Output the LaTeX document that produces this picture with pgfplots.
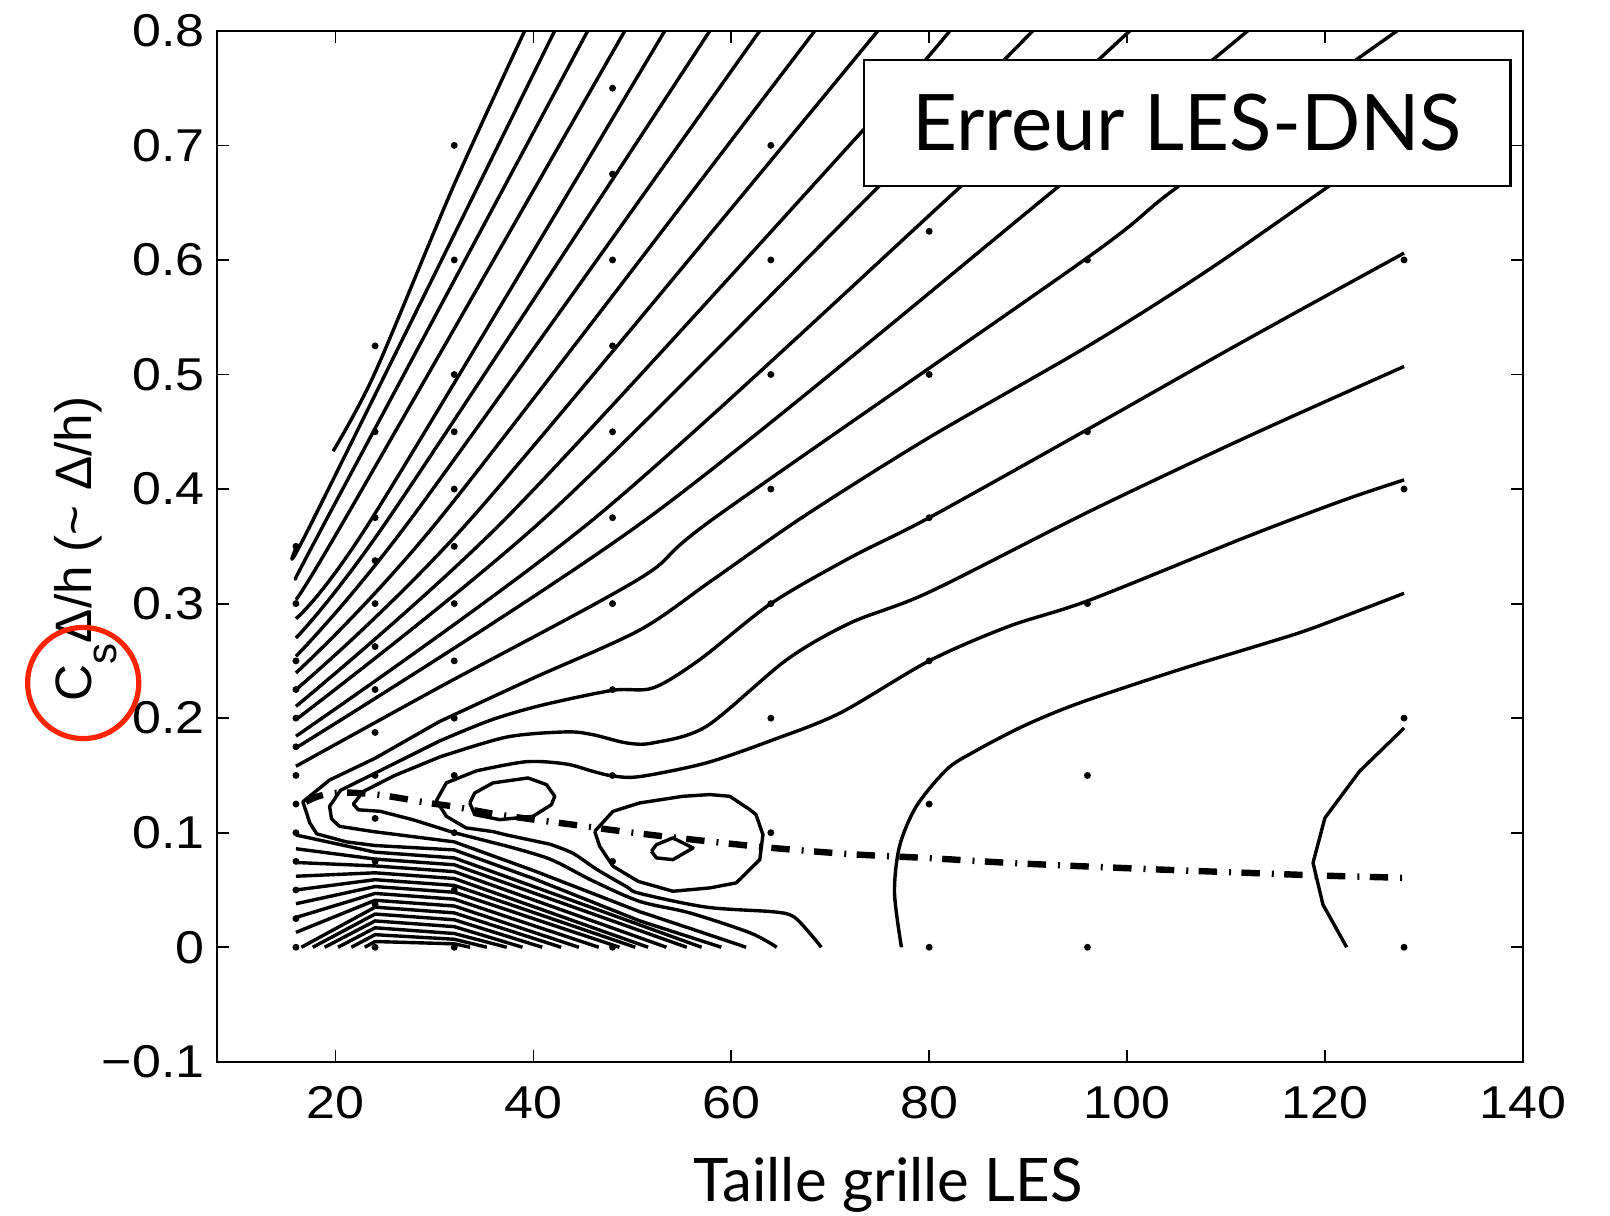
\documentclass[border=0pt]{standalone}
\usepackage{fontspec}
\setmainfont{Liberation Sans}
\newfontfamily\tickfont[FakeStretch=1.13]{Liberation Sans}
\newfontfamily\gill{Lato}
\usepackage{pgfplots}
\pgfplotsset{compat=1.18}
\definecolor{circred}{RGB}{255,36,0}
\tikzset{cl/.style={black, line width=0.85pt, mark=none, line join=round}}
\begin{document}
\begin{tikzpicture}
\begin{axis}[
  scale only axis, width=326.5pt, height=257.75pt,
  xmin=8, xmax=140, ymin=-0.1, ymax=0.8,
  xtick={20,40,60,80,100,120,140},
  xticklabels={20,40,60,80,100,120,140},
  ytick={-0.1,0,0.1,0.2,0.3,0.4,0.5,0.6,0.7,0.8},
  yticklabels={−0.1,0,0.1,0.2,0.3,0.4,0.5,0.6,0.7,0.8},
  tick align=inside, major tick length=3pt,
  axis line style={line width=0.5pt},
  every tick/.style={black, line width=0.45pt},
  xticklabel style={font=\tickfont\fontsize{11.5}{11.5}\selectfont, inner sep=0pt, yshift=-6pt},
  yticklabel style={font=\tickfont\fontsize{11.5}{11.5}\selectfont, inner sep=0pt, xshift=-2.9pt},
]
% ---- upper fan lines reaching the top border
\addplot[cl, smooth, tension=0.5] coordinates {(19.75,0.433) (23.96,0.501) (31.9,0.664) (39.12,0.8)};
\addplot[cl, smooth, tension=0.5] coordinates {(16,0.3485) (17.9,0.376) (42.15,0.8)};
\addplot[cl, smooth, tension=0.5] coordinates {(16,0.3223) (19.24,0.376) (45.49,0.8)};
\addplot[cl, smooth, tension=0.5] coordinates {(16,0.3034) (21.1,0.376) (49.24,0.8)};
\addplot[cl, smooth, tension=0.5] coordinates {(16,0.2869) (23.8,0.376) (53.28,0.8)};
\addplot[cl, smooth, tension=0.5] coordinates {(16,0.27) (25.5,0.376) (57.83,0.8)};
\addplot[cl, smooth, tension=0.5] coordinates {(16,0.254) (27.8,0.376) (62.88,0.8)};
\addplot[cl, smooth, tension=0.5] coordinates {(16,0.2395) (30.7,0.376) (68.44,0.8)};
\addplot[cl, smooth, tension=0.5] coordinates {(16,0.2249) (33.9,0.376) (74.81,0.8)};
\addplot[cl, smooth, tension=0.5] coordinates {(16,0.2103) (37.4,0.376) (73.4,0.714) (82.09,0.8)};
\addplot[cl, smooth, tension=0.5] coordinates {(16,0.1987) (41.3,0.376) (75.0,0.665) (90.48,0.8)};
\addplot[cl, smooth, tension=0.5] coordinates {(16,0.1842) (46.4,0.376) (83.3,0.665) (100.28,0.8)};
\addplot[cl, smooth, tension=0.5] coordinates {(16,0.174) (51.8,0.376) (93.2,0.665) (112.2,0.8)};
\addplot[cl, smooth, tension=0.5] coordinates {(16,0.158) (30.5,0.227) (50.76,0.322) (58.5,0.376) (96,0.602) (105.3,0.665) (127.3,0.8)};
% ---- hairpin contours around the valley (sharp near the noses, smooth further right)
\addplot[cl] coordinates {(59,0) (50.76,0.023) (40,0.06) (32,0.085) (24,0.0888) (21.1,0.092) (18.1,0.099) (17.4,0.1086) (16.7,0.127) (19.4,0.146) (24,0.165) (30.5,0.197)};
\addplot[cl, smooth, tension=0.5] coordinates {(30.5,0.197) (40,0.235) (50.76,0.277) (58,0.32) (67.3,0.376) (80,0.445) (96,0.5245) (108,0.59) (120.5,0.665) (128,0.71)};
\addplot[cl] coordinates {(61.5,0) (56,0.016) (50.76,0.031) (40,0.067) (32,0.092) (23.8,0.101) (20.4,0.1056) (19.6,0.112) (19.4,0.123) (20.5,0.137) (24,0.152) (30.5,0.18)};
\addplot[cl, smooth, tension=0.5] coordinates {(30.5,0.18) (35.6,0.198) (40.7,0.211) (48,0.2243) (52.1,0.2264) (56.8,0.251) (64,0.3) (72,0.34) (80,0.375) (96,0.452) (112,0.53) (128,0.606)};
\addplot[cl, smooth, tension=0.5] coordinates {(64.6,0) (61.9,0.0126) (55.8,0.03) (50.76,0.04) (46,0.058) (41.66,0.077) (37,0.089)};
\addplot[cl] coordinates {(37,0.089) (32,0.1) (27.8,0.1114) (24.5,0.1187) (22.3,0.12) (21.8,0.125) (22.8,0.136) (26,0.150) (30.5,0.166)};
\addplot[cl, smooth, tension=0.5] coordinates {(30.5,0.166) (37.3,0.1835) (43.3,0.188) (46,0.1856) (49.4,0.1784) (52.1,0.1784) (57.5,0.1929) (65.6,0.251) (72,0.283) (80,0.31) (96.2,0.3805) (112,0.445) (128,0.507)};
\addplot[cl, smooth, tension=0.5] coordinates {(69.1,0) (67.9,0.0126) (66.25,0.027) (64.2,0.031) (57.5,0.035) (50.76,0.047) (49.4,0.053) (46.4,0.068) (44,0.082) (41.66,0.09)};
\addplot[cl] coordinates {(41.66,0.09) (37.3,0.098) (35.9,0.101) (33.2,0.1042) (31.2,0.1143) (30.2,0.128) (31.2,0.1435) (34.24,0.154)};
\addplot[cl, smooth, tension=0.5] coordinates {(34.24,0.154) (39.3,0.162) (43.3,0.16) (46,0.1536) (48,0.1496) (50.76,0.149) (57.5,0.161) (64.2,0.181) (71,0.2045) (80,0.25) (88,0.28) (96.2,0.303) (112,0.358) (121.8,0.39) (128,0.408)};
% ---- lower chevron lines
\addplot[cl] coordinates {(16,0.098) (24,0.083) (32,0.078) (57,0)};
\addplot[cl] coordinates {(16,0.086) (24,0.077) (32,0.072) (55.5,0)};
\addplot[cl] coordinates {(16,0.074) (24,0.071) (32,0.066) (53.45,0)};
\addplot[cl] coordinates {(16,0.062) (24,0.065) (32,0.060) (51.6,0)};
\addplot[cl] coordinates {(16,0.050) (24,0.059) (32,0.054) (50.3,0)};
\addplot[cl] coordinates {(16,0.038) (24,0.053) (32,0.048) (48.7,0)};
\addplot[cl] coordinates {(16,0.026) (24,0.047) (32,0.042) (46.6,0)};
\addplot[cl] coordinates {(16,0.013) (24,0.041) (32,0.036) (44.6,0)};
\addplot[cl] coordinates {(16.55,0) (24,0.035) (32,0.030) (42.8,0)};
\addplot[cl] coordinates {(17.7,0) (24,0.029) (32,0.024) (40.9,0)};
\addplot[cl] coordinates {(18.9,0) (24,0.023) (32,0.018) (38.9,0)};
\addplot[cl] coordinates {(20.25,0) (24,0.017) (32,0.012) (37.3,0)};
\addplot[cl] coordinates {(21.6,0) (24,0.011) (32,0.007) (35.3,0)};
\addplot[cl] coordinates {(22.95,0) (24,0.005) (32,0.003) (33.6,0)};
% ---- closed contours
\addplot[cl] coordinates {(33.57,0.126) (34.07,0.1347) (35.92,0.1435) (39.46,0.1478) (41.32,0.142) (42.16,0.1318) (41.82,0.1245) (39.96,0.1143) (36.6,0.1114) (34.07,0.1158) (33.57,0.126)};
\addplot[cl] coordinates {(51.93,0.0838) (52.44,0.0896) (54.1,0.0955) (56.14,0.0867) (54.1,0.0765) (52.44,0.078) (51.93,0.0838)};
\addplot[cl] coordinates {(46.2,0.1012) (48.05,0.1187) (50.75,0.126) (55.13,0.1318) (57.83,0.1333) (59.85,0.1318) (61.87,0.1202) (62.5,0.1158) (63.2,0.0983) (62.88,0.0765) (60.5,0.0562) (57.83,0.0518) (54.1,0.0489) (50.6,0.0575) (48.05,0.0707) (46.7,0.0881) (46.2,0.1012)};
% ---- right-hand contours
\addplot[cl, smooth, tension=0.5] coordinates {(77.2,0) (76.5,0.0475) (77.0,0.088) (78.7,0.123) (81.75,0.155) (84.4,0.170) (89.5,0.193) (95.2,0.2133) (105.3,0.2424) (114.1,0.2656) (118.8,0.2787) (128,0.309)};
\addplot[cl] coordinates {(128,0.1914) (123.5,0.1536) (120.0,0.1129) (118.8,0.0737) (119.8,0.0373) (122.2,0)};
% ---- dash-dot line
\addplot[black, line width=1.6pt, smooth, dash pattern=on 4.6pt off 3.0pt on 0.5pt off 2.6pt] coordinates {(17,0.127) (18,0.131) (19,0.1335) (20,0.1347) (21,0.135) (22,0.1348) (24,0.1335) (26,0.131) (28,0.128) (30,0.1252) (32,0.1228) (36,0.1165) (40,0.1115) (44,0.107) (48,0.1023) (52,0.098) (56,0.0941) (60,0.0903) (64,0.0868) (72,0.0813) (80,0.0778) (88,0.0737) (96,0.0705) (104,0.0676) (112,0.065) (120,0.0625) (128,0.0606)};
% ---- grid points
\addplot[only marks, mark=*, mark size=0.65pt, black] coordinates {
(16,0) (16,0.025) (16,0.05) (16,0.075) (16,0.1) (16,0.125) (16,0.15) (16,0.175) (16,0.2) (16,0.225) (16,0.25) (16,0.3) (16,0.35)
(24,0) (24,0.0375) (24,0.075) (24,0.1125) (24,0.15) (24,0.1875) (24,0.225) (24,0.2625) (24,0.3) (24,0.3375) (24,0.375) (24,0.45) (24,0.525)
(32,0) (32,0.05) (32,0.1) (32,0.15) (32,0.2) (32,0.25) (32,0.3) (32,0.35) (32,0.4) (32,0.45) (32,0.5) (32,0.6) (32,0.7)
(48,0) (48,0.075) (48,0.15) (48,0.225) (48,0.3) (48,0.375) (48,0.45) (48,0.525) (48,0.6) (48,0.675) (48,0.75)
(64,0.1) (64,0.2) (64,0.3) (64,0.4) (64,0.5) (64,0.6) (64,0.7)
(80,0) (80,0.125) (80,0.25) (80,0.375) (80,0.5) (80,0.625)
(96,0) (96,0.15) (96,0.3) (96,0.45) (96,0.6)
(128,0) (128,0.2) (128,0.4) (128,0.6)};
% ---- title box
\node[draw, line width=0.65pt, fill=white, minimum width=161.6pt, minimum height=31.5pt, inner sep=0pt, font=\gill\fontsize{19.5}{19.5}\selectfont] at (rel axis cs:0.743,0.9106) {Erreur LES-DNS};
\end{axis}
\node[rotate=90, anchor=base, font=\fontsize{12.8}{12.8}\selectfont] at (-31.25pt,128.2pt) {C\raisebox{-6.25pt}{\fontsize{10.5}{10.5}\selectfont s}Δ/h (\textasciitilde{} Δ/h)};
\node[anchor=base, font=\gill\fontsize{15}{15}\selectfont] at (167.9pt,-34.8pt) {Taille grille LES};
\draw[circred, line width=1.3pt] (-33.4pt,94.7pt) circle[radius=13.9pt];
\pgfresetboundingbox
\path[use as bounding box] (-54.2pt,-38.3pt) rectangle (348.3pt,265.45pt);
\end{tikzpicture}
\end{document}
